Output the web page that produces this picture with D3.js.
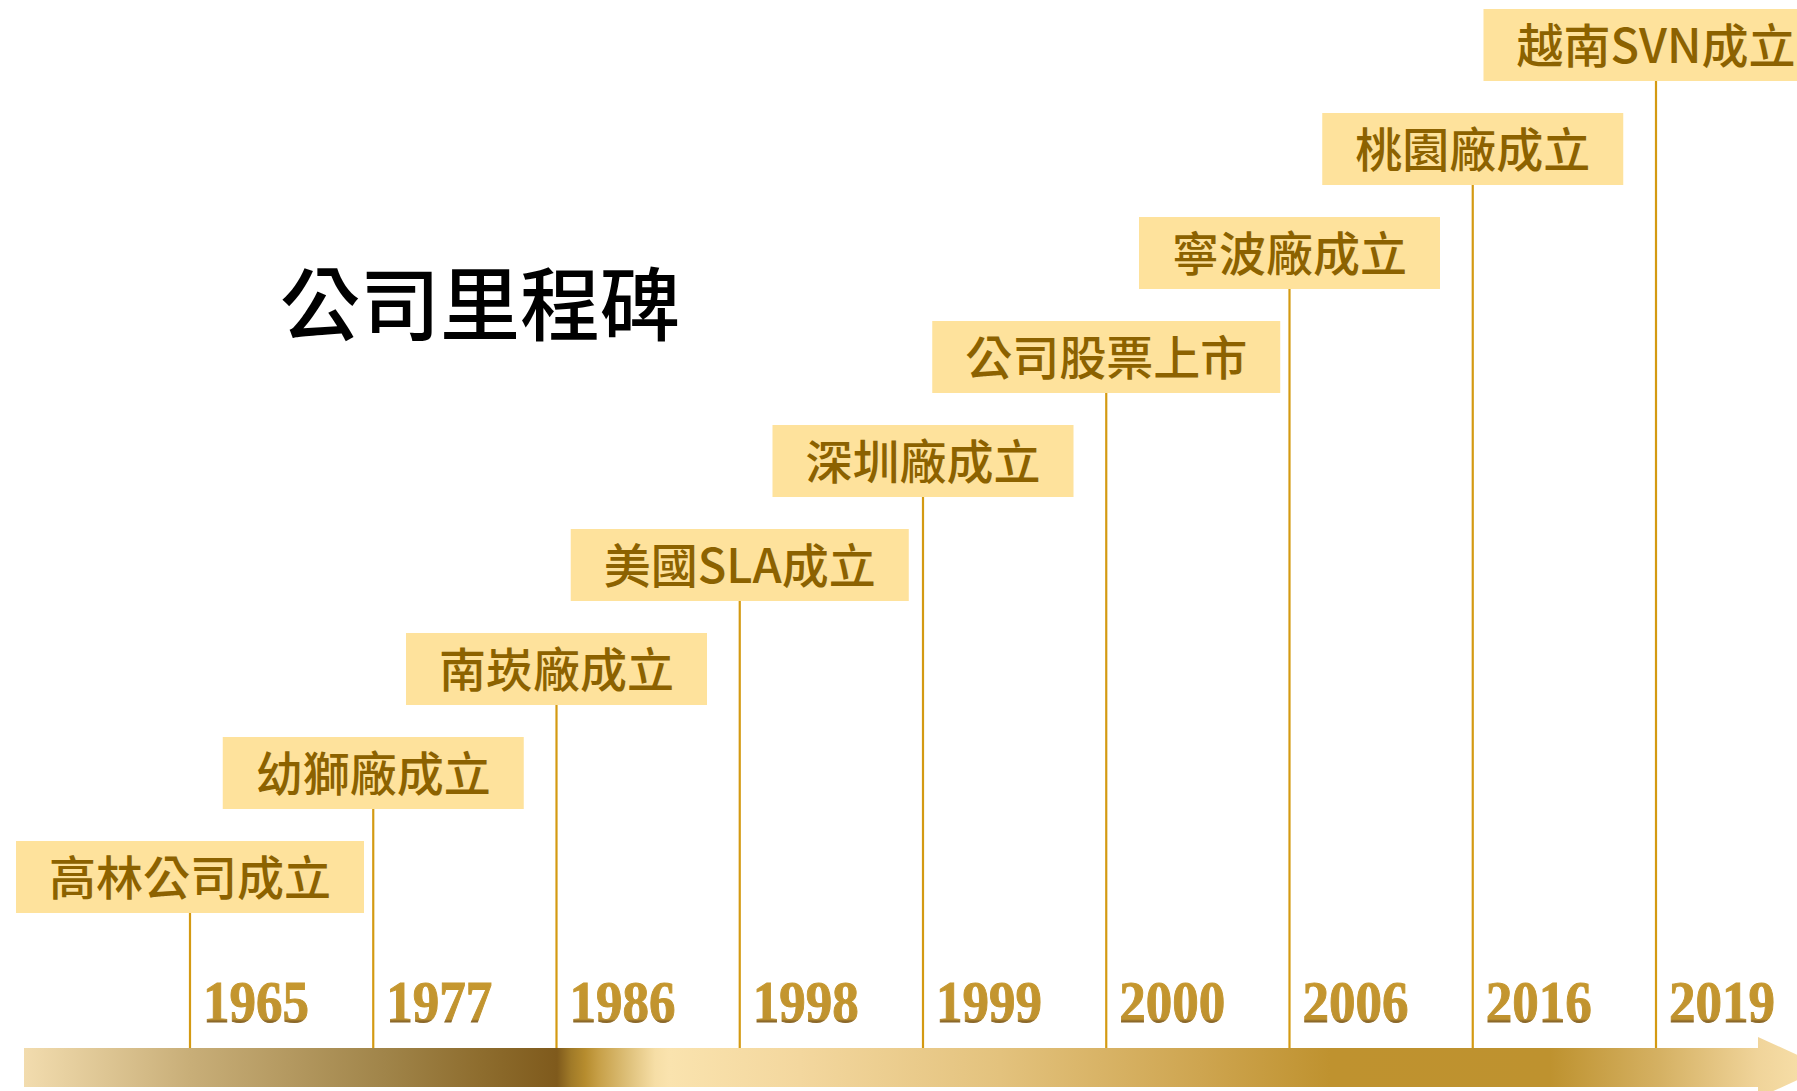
<html>
<head>
<meta charset="utf-8">
<style>
  body { margin: 0; background: #fff; overflow: hidden; }
  svg { display: block; }
</style>
</head>
<body>

<svg width="1797" height="1091" id="timeline"></svg>

<script src="https://d3js.org/d3.v7.min.js"></script>
<script>
var title = "公司里程碑";
var years = ["1965", "1977", "1986", "1998", "1999", "2000", "2006", "2016", "2019"];
var events = ["高林公司成立", "幼獅廠成立", "南崁廠成立", "美國SLA成立", "深圳廠成立",
              "公司股票上市", "寧波廠成立", "桃園廠成立", "越南SVN成立"];

var W = 1797, H = 1091;
var barTop = 1048, barBottom = 1087, barLeft = 24, headX = 1758, tipX = 1825;
var boxH = 72, padX = 33;

var svg = d3.select("#timeline");
var defs = svg.append("defs");

// x of each milestone, top of each label box
var x = d3.scalePoint().domain(years).range([190, 1656]);
var y = d3.scalePoint().domain(events).range([841, 9]);

// arrow gradient (dark band ends at 1986, then light again)
var barStops = [
    [24, "#F2DCAE"], [190, "#C8AE78"], [386, "#A08449"], [480, "#8E6D2E"],
    [557, "#7F5A1C"], [571, "#A07A28"], [585, "#B68C2E"], [599, "#C7A048"],
    [627, "#DDBF78"], [655, "#F6DEA6"], [669, "#FAE3AE"], [800, "#F3D79E"],
    [1000, "#E3C27D"], [1200, "#CEA550"], [1330, "#BF922F"], [1550, "#BE922F"],
    [1660, "#D5B163"], [1758, "#F0D49A"], [1825, "#FAE3AE"]
];
var g1 = defs.append("linearGradient")
    .attr("id", "barGrad")
    .attr("gradientUnits", "userSpaceOnUse")
    .attr("x1", barLeft).attr("x2", tipX).attr("y1", 0).attr("y2", 0);
g1.selectAll("stop").data(barStops).enter().append("stop")
    .attr("offset", function(d){ return (d[0] - barLeft) / (tipX - barLeft); })
    .attr("stop-color", function(d){ return d[1]; });

// year text gradient
var g2 = defs.append("linearGradient")
    .attr("id", "yearGrad")
    .attr("x1", 0).attr("x2", 0).attr("y1", 0).attr("y2", 1);
[[0, "#C8992F"], [0.76, "#BF922F"], [0.79, "#8A672A"], [1, "#A0813C"]].forEach(function(s){
    g2.append("stop").attr("offset", s[0]).attr("stop-color", s[1]);
});

// title
svg.append("text")
    .attr("x", 480).attr("y", 334)
    .attr("text-anchor", "middle")
    .style("font-family", "'Noto Sans CJK TC', 'Noto Sans CJK SC', sans-serif")
    .style("font-size", "80px")
    .style("font-weight", 500)
    .style("fill", "#000")
    .text(title);

// measure label widths
var items = years.map(function(yr, i){ return {year: yr, label: events[i]}; });
var tmp = svg.append("text")
    .style("font-family", "'Noto Sans CJK TC', sans-serif")
    .style("font-size", "47px").style("font-weight", 500);
items.forEach(function(d){
    tmp.text(d.label);
    d.w = tmp.node().getComputedTextLength() + padX * 2;
});
tmp.remove();

// stems
svg.selectAll(".stem").data(items).enter().append("line")
    .attr("class", "stem")
    .attr("x1", function(d){ return x(d.year); })
    .attr("x2", function(d){ return x(d.year); })
    .attr("y1", function(d){ return y(d.label) + boxH; })
    .attr("y2", function(d, i){ return i == items.length - 1 ? barTop + 4 : barTop; })
    .style("stroke", "#D49A12")
    .style("stroke-width", 2.2);

// label boxes
var box = svg.selectAll(".box").data(items).enter().append("g")
    .attr("class", "box")
    .attr("transform", function(d){
        return "translate(" + (x(d.year) - d.w / 2) + "," + y(d.label) + ")";
    });
box.append("rect")
    .attr("width", function(d){ return d.w; })
    .attr("height", boxH)
    .style("fill", "#FEE29C");
box.append("text")
    .attr("x", function(d){ return d.w / 2; })
    .attr("y", boxH / 2 - 3)
    .attr("text-anchor", "middle")
    .attr("dominant-baseline", "central")
    .style("font-family", "'Noto Sans CJK TC', sans-serif")
    .style("font-size", "47px")
    .style("font-weight", 500)
    .style("fill", "#8C6200")
    .text(function(d){ return d.label; });

// year labels
svg.selectAll(".year").data(items).enter().append("text")
    .attr("class", "year")
    .attr("x", function(d){ return x(d.year) + 13; })
    .attr("y", 1022)
    .attr("textLength", 106)
    .attr("lengthAdjust", "spacingAndGlyphs")
    .style("font-family", "'Liberation Serif', 'Times New Roman', serif")
    .style("font-size", "60px")
    .style("font-weight", 700)
    .style("fill", "url(#yearGrad)")
    .style("stroke", "url(#yearGrad)")
    .style("stroke-width", 1)
    .text(function(d){ return d.year; });

// arrow
var midY = (barTop + barBottom) / 2;
svg.append("path")
    .attr("d", d3.line()([
        [barLeft, barTop], [headX, barTop], [headX, 1037], [tipX, midY],
        [headX, 1098], [headX, barBottom], [barLeft, barBottom]
    ]) + "Z")
    .style("fill", "url(#barGrad)");
</script>

</body>
</html>
